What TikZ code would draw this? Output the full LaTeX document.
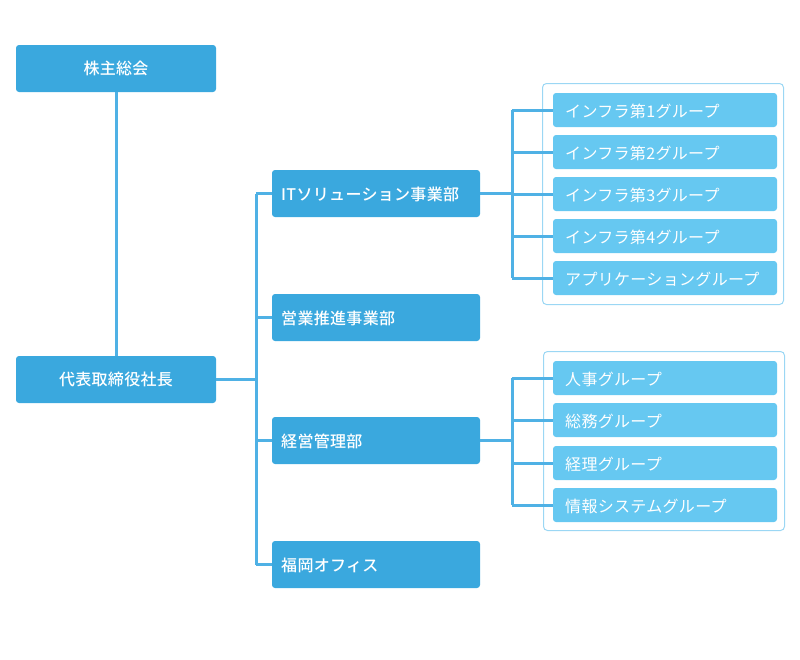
\documentclass[tikz,border=0pt]{standalone}
\usepackage{fontspec}
\newfontfamily\jp{Noto Sans CJK JP}[BoldFont={* Medium}, LetterSpace=2]
\definecolor{dark}{HTML}{3AA8DE}
\definecolor{light}{HTML}{66C8F1}
\definecolor{linec}{HTML}{4FB1E5}
\definecolor{framec}{HTML}{9BD7F4}
\begin{document}
\begin{tikzpicture}[x=1pt,y=-1pt,
  topbox/.style={fill=dark, rounded corners=3pt, minimum width=200pt, minimum height=47pt, inner sep=0pt, text=white, font=\jp\bfseries\fontsize{16}{18}\selectfont},
  deptbox/.style={fill=dark, rounded corners=3pt, minimum width=208pt, minimum height=47pt, inner sep=0pt},
  grpbox/.style={fill=light, rounded corners=3pt, minimum width=224pt, minimum height=34pt, inner sep=0pt},
  depttext/.style={anchor=west, text=white, font=\jp\bfseries\fontsize{16}{18}\selectfont, inner sep=0pt},
  grptext/.style={anchor=west, text=white, font=\jp\fontsize{16}{18}\selectfont, inner sep=0pt},
  frame/.style={draw=framec, line width=1pt, rounded corners=4pt},
  conn/.style={draw=linec, line width=3pt}]
\useasboundingbox (0,0) rectangle (800,659);
% frames
\draw[frame] (542.5,83.5) rectangle (783.5,304.5);
\draw[frame] (543.5,351.5) rectangle (784.5,530.5);
% top boxes
\node[topbox] (kabu) at (116,68.5) {株主総会};
\node[topbox] (ceo) at (116,379.5) {代表取締役社長};
% departments
\foreach \n/\y/\t in {it/193.5/ITソリューション事業部, eigyo/317.5/営業推進事業部, keiei/440.5/経営管理部, fuku/564.5/福岡オフィス}{
  \node[deptbox] (\n) at (376,\y) {};
  \node[depttext] (\n t) at (281,\y+1) {\t};
}
% groups
\foreach \n/\y/\t in {g1/110/インフラ第1グループ, g2/152/インフラ第2グループ, g3/194/インフラ第3グループ, g4/236/インフラ第4グループ, g5/278/アプリケーショングループ,
  h1/378/人事グループ, h2/420/総務グループ, h3/463/経理グループ, h4/505/情報システムグループ}{
  \node[grpbox] (\n) at (665,\y) {};
  \node[grptext] (\n t) at (565,\y+1) {\t};
}
% connectors
\draw[conn] (kabu.south) -- (ceo.north);
\coordinate (bus) at (256,0);
\draw[conn] (ceo.east) -- (ceo.east -| bus);
\draw[conn] (it.west -| bus) -- (fuku.west -| bus);
\foreach \n in {it,eigyo,keiei,fuku}{\draw[conn] (\n.west -| bus) -- (\n.west);}
\coordinate (bus2) at (512,0);
\draw[conn] (it.east) -- (it.east -| bus2);
\draw[conn] (g1.west -| bus2) -- (g5.west -| bus2);
\foreach \n in {g1,g2,g3,g4,g5}{\draw[conn] (\n.west -| bus2) -- (\n.west);}
\draw[conn] (keiei.east) -- (keiei.east -| bus2);
\draw[conn] (h1.west -| bus2) -- (h4.west -| bus2);
\foreach \n in {h1,h2,h3,h4}{\draw[conn] (\n.west -| bus2) -- (\n.west);}
\end{tikzpicture}
\end{document}
